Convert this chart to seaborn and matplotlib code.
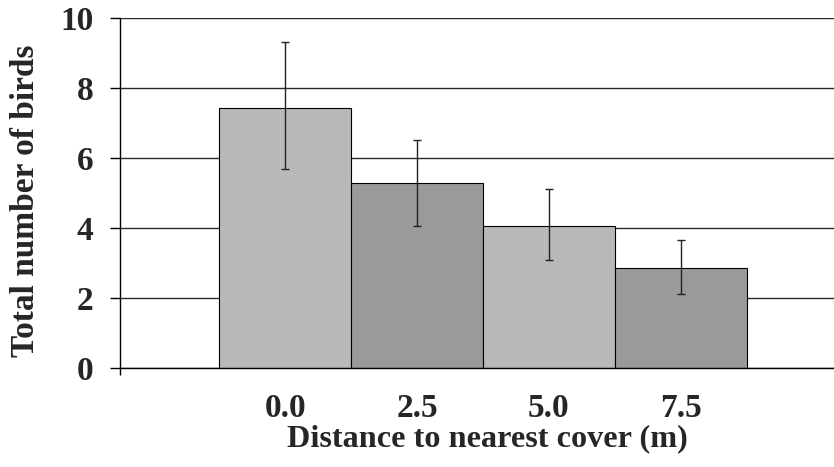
import matplotlib
matplotlib.use("Agg")
import matplotlib.pyplot as plt
import seaborn as sns

distances = ["0.0", "2.5", "5.0", "7.5"]
mean_birds = [7.42, 5.27, 4.05, 2.86]
err_low = [5.67, 4.05, 3.08, 2.11]
err_high = [9.31, 6.50, 5.10, 3.65]
bar_colors = ["#b9b9b9", "#9a9a9a", "#b9b9b9", "#9a9a9a"]

sns.set_style("white")
plt.rcParams["font.family"] = ["Liberation Serif", "DejaVu Serif"]
plt.rcParams["font.weight"] = "bold"

fig = plt.figure(figsize=(8.34, 4.67), dpi=100)
ax = fig.add_axes([0.1439, 0.212, 0.8561, 0.7505])

sns.barplot(x=distances, y=mean_birds, hue=distances, palette=bar_colors,
            legend=False, width=1.0, edgecolor="black", linewidth=0.8,
            errorbar=None, ax=ax, zorder=2)

yerr = [[m - lo for m, lo in zip(mean_birds, err_low)],
        [hi - m for m, hi in zip(mean_birds, err_high)]]
ax.errorbar(range(len(distances)), mean_birds, yerr=yerr, fmt="none",
            ecolor="#222222", elinewidth=1.0, capsize=3, capthick=1.0, zorder=3)

ax.set_ylim(0, 10)
ax.set_yticks([0, 2, 4, 6, 8, 10])
ax.set_xlim(-1.254, 4.163)
ax.yaxis.grid(True, color="#2a2a2a", linewidth=1.0, zorder=0)
ax.set_axisbelow(True)

for side in ["top", "right"]:
    ax.spines[side].set_visible(False)
ax.spines["left"].set_color("black")
ax.spines["bottom"].set_color("black")
ax.spines["left"].set_linewidth(1.0)
ax.spines["bottom"].set_linewidth(1.0)

ax.tick_params(axis="y", direction="out", length=7, width=1, color="black",
               pad=12, labelsize=24, left=True)
ax.tick_params(axis="x", length=0, pad=18, labelsize=24)
ax.set_xticks([-1.254], minor=True)
ax.tick_params(axis="x", which="minor", direction="out", length=5, width=1,
               color="black", bottom=True)

ax.set_xlabel("Distance to nearest cover (m)", fontsize=23.2, fontweight="bold", labelpad=0)
ax.set_ylabel("Total number of birds", fontsize=24, fontweight="bold", labelpad=14)
ax.xaxis.label.set_x(0.515)
ax.yaxis.label.set_y(0.4765)

fig.savefig("out.png", dpi=100)
